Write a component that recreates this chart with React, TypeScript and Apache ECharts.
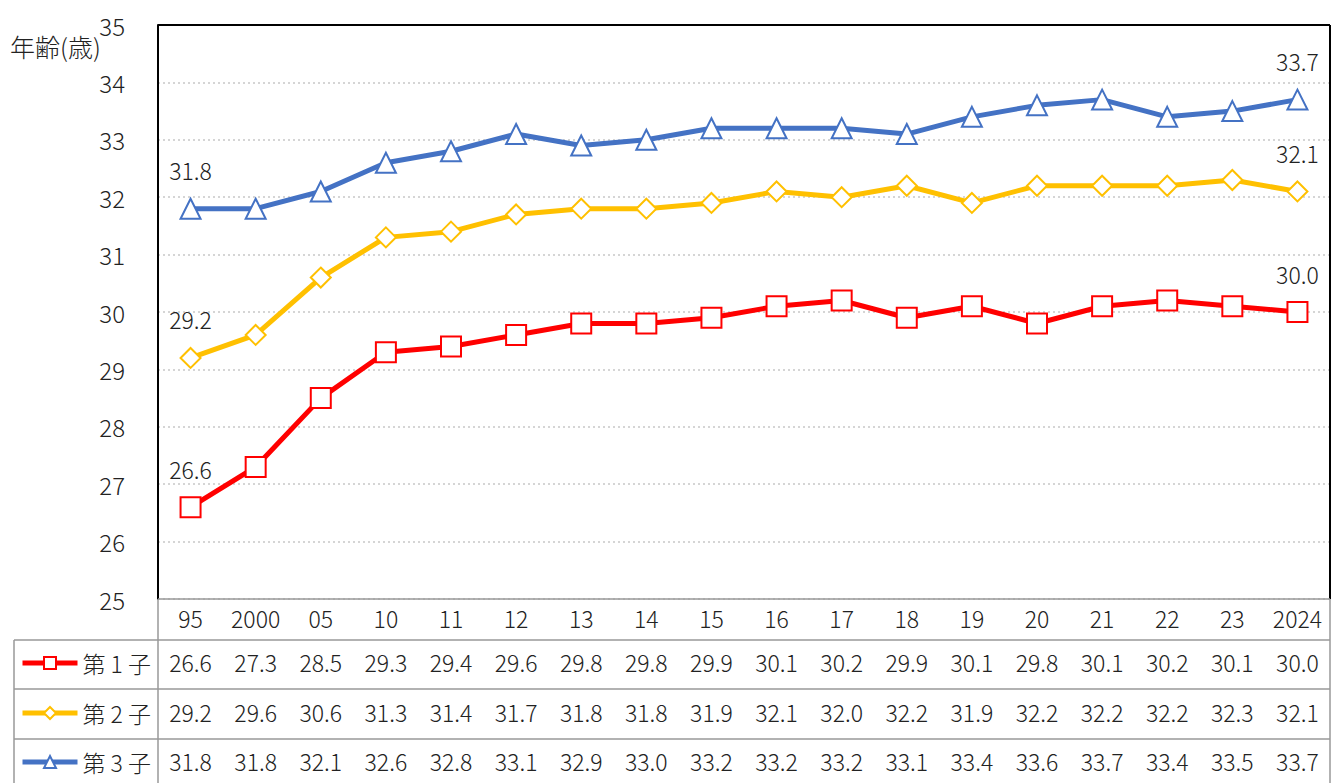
import React, { useEffect, useRef } from "react";
import * as echarts from "echarts";

const categories = ["95", "2000", "05", "10", "11", "12", "13", "14", "15", "16", "17", "18", "19", "20", "21", "22", "23", "2024"];
const first = [26.6, 27.3, 28.5, 29.3, 29.4, 29.6, 29.8, 29.8, 29.9, 30.1, 30.2, 29.9, 30.1, 29.8, 30.1, 30.2, 30.1, 30.0];
const second = [29.2, 29.6, 30.6, 31.3, 31.4, 31.7, 31.8, 31.8, 31.9, 32.1, 32.0, 32.2, 31.9, 32.2, 32.2, 32.2, 32.3, 32.1];
const third = [31.8, 31.8, 32.1, 32.6, 32.8, 33.1, 32.9, 33.0, 33.2, 33.2, 33.2, 33.1, 33.4, 33.6, 33.7, 33.4, 33.5, 33.7];
const seriesNames = ["第 1 子", "第 2 子", "第 3 子"];
const yTitle = "年齢(歳)";

const FONT = "'Noto Sans CJK JP', 'Noto Sans', sans-serif";
const TXT = "#222";

export default function App() {
  const ref = useRef<HTMLDivElement>(null);
  useEffect(() => {
    if (!ref.current) return;
    const chart = echarts.init(ref.current, undefined, { renderer: "svg" });
    const L = 158, R = 1330, T = 25, B = 599;
    const gray = "#999";
    const mkData = (vals: number[]) =>
      vals.map((v, i) =>
        i === 0 || i === vals.length - 1
          ? { value: v, label: { show: true } }
          : v
      );
    const seriesDefs = [
      { name: seriesNames[0], vals: first, color: "#FF0000", symbol: "rect", size: 20 },
      { name: seriesNames[1], vals: second, color: "#FFC000", symbol: "diamond", size: 20 },
      { name: seriesNames[2], vals: third, color: "#4472C4", symbol: "triangle", size: 20 },
    ];
    const rowOffsets = [44, 94, 143];
    const rowCenters = [662, 712, 761];
    const numLabel = { fontSize: 23, color: TXT, fontFamily: FONT, fontWeight: 300 as any, margin: 7, interval: 0 };
    const tableAxes = seriesDefs.map((s, k) => ({
      type: "category",
      gridIndex: 0,
      position: "bottom",
      offset: rowOffsets[k],
      data: s.vals.map((v) => v.toFixed(1)),
      axisLine: { show: false },
      axisTick: { show: false },
      splitLine: { show: false },
      axisLabel: numLabel,
    }));
    const hline = (x1: number, x2: number, y: number, color: string, w: number) => ({
      type: "line",
      shape: { x1, y1: y, x2, y2: y },
      style: { stroke: color, lineWidth: w },
      z: 100,
    });
    const vline = (x: number, y1: number, y2: number, color: string, w: number) => ({
      type: "line",
      shape: { x1: x, y1, x2: x, y2 },
      style: { stroke: color, lineWidth: w },
      z: 100,
    });
    chart.setOption({
      animation: false,
      backgroundColor: "#fff",
      textStyle: { fontFamily: FONT },
      grid: { left: L, right: 1341 - R, top: T, bottom: 783 - B, containLabel: false },
      legend: seriesDefs.map((s, k) => ({
        orient: "horizontal",
        left: 15,
        top: rowCenters[k] - 18,
        itemWidth: 55,
        itemHeight: 15,
        itemGap: 5,
        textStyle: { fontSize: 23, color: TXT, fontFamily: FONT, fontWeight: 300, lineHeight: 28 },
        lineStyle: { width: 5 },
        itemStyle: { borderWidth: 2 },
        data: [s.name],
      })),
      xAxis: [
        {
          type: "category",
          data: categories,
          boundaryGap: true,
          axisLine: { show: false },
          axisTick: { show: false },
          axisLabel: numLabel,
        },
        ...tableAxes,
      ],
      yAxis: {
        type: "value",
        min: 25,
        max: 35,
        interval: 1,
        axisLine: { show: true, lineStyle: { color: "#000", width: 2 } },
        axisTick: { show: false },
        axisLabel: { fontSize: 24, color: TXT, fontFamily: FONT, fontWeight: 300, margin: 33 },
        splitLine: { show: true, lineStyle: { color: "#c8c8c8", type: [2, 3], width: 1.5 } },
      },
      graphic: [
        { type: "text", left: 10, top: 33, style: { text: yTitle, fontSize: 25, fill: TXT, fontFamily: FONT, fontWeight: 300 } },
        hline(L, R, T, "#000", 2),
        vline(R, T, B, "#000", 2),
        hline(L, R, B, gray, 1.5),
        hline(14, R, 640, gray, 1.5),
        hline(14, R, 689, gray, 1.5),
        hline(14, R, 739, gray, 1.5),
        vline(L, B, 783, gray, 1.5),
        vline(14, 640, 783, gray, 1.5),
        vline(R, B, 783, gray, 1.5),
      ],
      series: seriesDefs.map((s) => ({
        name: s.name,
        type: "line",
        xAxisIndex: 0,
        data: mkData(s.vals),
        symbol: s.symbol,
        symbolSize: s.size,
        showAllSymbol: true,
        lineStyle: { color: s.color, width: 5 },
        itemStyle: { color: "#fff", borderColor: s.color, borderWidth: 2 },
        label: {
          show: false,
          position: "top",
          distance: 16,
          fontSize: 23,
          fontWeight: 300,
          color: TXT,
          fontFamily: FONT,
          formatter: (p: any) => Number(p.value).toFixed(1),
        },
        emphasis: { disabled: true },
      })),
    });
    return () => chart.dispose();
  }, []);
  return (
    <div
      ref={ref}
      style={{ position: "fixed", left: 0, top: 0, width: 1341, height: 783, background: "#fff" }}
    />
  );
}
